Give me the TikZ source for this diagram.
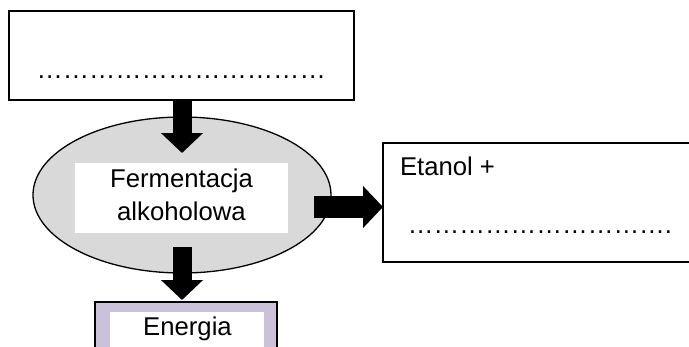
\documentclass[tikz,border=0pt]{standalone}
\usepackage{fontspec}
\setmainfont{Liberation Sans}
\usetikzlibrary{arrows.meta,shapes.geometric}
\definecolor{ellfill}{HTML}{D9D9D9}
\definecolor{lilac}{HTML}{CCC1DA}
% one ellipsis character; blanks are filled with rows of these
\newcommand\elp{…}
\begin{document}
\begin{tikzpicture}[x=1pt,y=-1pt,
  frame/.style={draw=black,line width=2pt,inner sep=0pt,outer sep=0pt},
  plate/.style={fill=white,inner sep=0pt,outer sep=0pt},
  txt/.style={inner sep=0pt,outer sep=0pt,font=\fontsize{25.7}{30}\selectfont},
  blank/.style={inner sep=0pt,outer sep=0pt,font=\fontsize{26.3}{30}\selectfont},
  fatarrow/.style={draw=black,line width=#1,-{Triangle[width=41pt,length=20pt]}},
]
\clip (0,0) rectangle (689,346);
\fill[white] (0,0) rectangle (689,346);

% substrate box (to be filled in)
\node[frame,minimum width=345pt,minimum height=89pt] (src) at (181.5,55.5) {};
\node[blank,anchor=base] (srcdots) at (181.2,78.3) {\elp\elp\elp\elp\elp\elp\elp\elp\elp\elp\elp};

% fermentation process
\node[ellipse,draw=black,fill=ellfill,line width=1.3pt,minimum width=298pt,
      minimum height=156pt,inner sep=0pt,outer sep=0pt] (ferm) at (182,195) {};
\node[plate,minimum width=213pt,minimum height=70pt] (fermplate) at (181.5,198) {};
\node[txt,anchor=base] (ferm1) at (181.5,187) {Fermentacja};
\node[txt,anchor=base] (ferm2) at (181.5,220) {alkoholowa};

% products box
\node[frame,minimum width=320pt,minimum height=119pt] (prod) at (543,202.5) {};
\node[txt,anchor=base west] (prodtitle) at (400,175) {Etanol +};
\node[txt,anchor=base] (proddots) at (540,233) {\elp\elp\elp\elp\elp\elp\elp\elp\elp\elp.};

% energy box
\node[frame,fill=lilac,minimum width=182pt,minimum height=58pt] (energy) at (186,331) {};
\node[plate,minimum width=154pt,minimum height=48pt] (energyplate) at (187,336) {};
\node[txt,anchor=base] (energytext) at (187.5,335) {Energia};

% arrows
\draw[fatarrow=19pt] (src.south -| ferm.north) -- ([yshift=-36pt]ferm.north);
\draw[fatarrow=19pt] ([yshift=26pt]ferm.south) -- ([yshift=2pt]energy.north -| ferm.south);
\draw[fatarrow=22pt] ([xshift=-17pt,yshift=-12pt]ferm.east) -- ([yshift=-12pt]ferm.east -| prod.west);
\end{tikzpicture}
\end{document}
